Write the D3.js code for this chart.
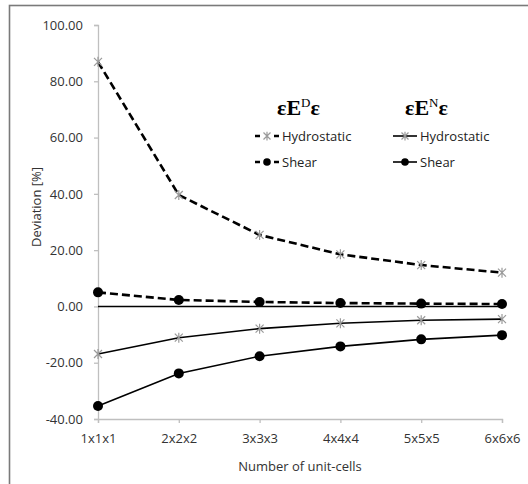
<!DOCTYPE html>
<html><head><meta charset="utf-8">
<script src="https://cdn.jsdelivr.net/npm/d3@7"></script>
<style>html,body{margin:0;padding:0;background:#fff;}svg{display:block;}</style>
</head><body>
<svg id="chart" width="528" height="484"></svg>
<script>
const categories = ["1x1x1","2x2x2","3x3x3","4x4x4","5x5x5","6x6x6"];
const dHydro = [86.9, 39.6, 25.4, 18.5, 14.7, 12.0];
const dShear = [5.0, 2.3, 1.6, 1.2, 1.0, 0.85];
const nHydro = [-16.9, -11.1, -7.9, -6.0, -4.9, -4.5];
const nShear = [-35.4, -23.8, -17.7, -14.2, -11.7, -10.2];
const zeroLine = [0, 0, 0, 0, 0, 0];
const yTicks = [-40, -20, 0, 20, 40, 60, 80, 100];
const legendLabels = ["Hydrostatic", "Shear"];

const svg = d3.select("#chart");
const font = "'Open Sans', sans-serif";
const axisGrey = "#bfbfbf";

svg.append("rect").attr("x", 9.5).attr("y", 5.5).attr("width", 600).attr("height", 600)
  .attr("fill", "none").attr("stroke", "#7a7a7a").attr("stroke-width", 1.6);

const x = d3.scalePoint().domain(categories).range([98, 502]).padding(0);
const y = d3.scaleLinear().domain([-40, 100]).range([419, 25]);

const yAxis = svg.append("g").attr("transform", "translate(98,0)")
  .call(d3.axisLeft(y).tickValues(yTicks).tickFormat(d => d.toFixed(2)).tickSize(4).tickPadding(11));
const xAxis = svg.append("g").attr("transform", "translate(0,419)")
  .call(d3.axisBottom(x).tickSize(4).tickPadding(11));
[yAxis, xAxis].forEach(g => {
  g.select(".domain").attr("stroke", axisGrey).attr("stroke-width", 1.3);
  g.selectAll(".tick line").attr("stroke", axisGrey).attr("stroke-width", 1.3);
  g.selectAll(".tick text").attr("fill", "#333").style("font-family", font).style("font-size", "13px");
});

svg.append("text").attr("transform", "translate(41,207) rotate(-90)").attr("text-anchor", "middle")
  .style("font-family", font).style("font-size", "13px").attr("fill", "#333").text("Deviation [%]");
svg.append("text").attr("x", 300).attr("y", 471).attr("text-anchor", "middle")
  .style("font-family", font).style("font-size", "13px").attr("fill", "#333").text("Number of unit-cells");

const line = d3.line().x((d, i) => x(categories[i])).y(d => y(d));

svg.append("path").datum(zeroLine).attr("d", line).attr("fill", "none").attr("stroke", "#000").attr("stroke-width", 1.6);

function star(g, cx, cy, r) {
  const p = `M${cx - r},${cy - r}L${cx + r},${cy + r}M${cx - r},${cy + r}L${cx + r},${cy - r}M${cx},${cy - r * 1.25}L${cx},${cy + r * 1.25}`;
  g.append("path").attr("d", p).attr("stroke", "#9a9a9a").attr("stroke-width", 1.2).attr("fill", "none");
}

const series = [
  { data: dHydro, dash: "8,4", width: 2.6, marker: "star" },
  { data: dShear, dash: "8,4", width: 2.6, marker: "circle" },
  { data: nHydro, dash: null, width: 1.6, marker: "star" },
  { data: nShear, dash: null, width: 1.6, marker: "circle" }
];
series.forEach(s => {
  svg.append("path").datum(s.data).attr("d", line).attr("fill", "none")
    .attr("stroke", "#000").attr("stroke-width", s.width).attr("stroke-dasharray", s.dash);
  const g = svg.append("g");
  s.data.forEach((v, i) => {
    const cx = x(categories[i]), cy = y(v);
    if (s.marker === "star") star(g, cx, cy, 4);
    else g.append("circle").attr("cx", cx).attr("cy", cy).attr("r", 5).attr("fill", "#000");
  });
});

// Legend titles
function title(xp, sup) {
  const t = svg.append("text").attr("x", xp).attr("y", 115)
    .style("font-family", "'Liberation Serif', serif").style("font-size", "22px").attr("fill", "#000");
  t.append("tspan").style("font-weight", "bold").text("\u03B5E");
  t.append("tspan").style("font-size", "13px").attr("dy", -8).text(sup);
  t.append("tspan").style("font-weight", "bold").attr("dy", 8).text("\u03B5");
}
title(277, "D");
title(405, "N");

// Legend entries
const legendGroups = [
  { x0: 255, items: [series[0], series[1]] },
  { x0: 393, items: [series[2], series[3]] }
];
legendGroups.forEach(lg => {
  lg.items.forEach((s, j) => {
    const ly = 136 + j * 26;
    if (s.dash) {
      svg.append("line").attr("x1", lg.x0).attr("x2", lg.x0 + 24).attr("y1", ly).attr("y2", ly)
        .attr("stroke", "#000").attr("stroke-width", 2.6).attr("stroke-dasharray", "5,14,5");
    } else {
      svg.append("line").attr("x1", lg.x0).attr("x2", lg.x0 + 24).attr("y1", ly).attr("y2", ly)
        .attr("stroke", "#000").attr("stroke-width", 1.6);
    }
    if (s.marker === "star") star(svg, lg.x0 + 12, ly, 3.5);
    else svg.append("circle").attr("cx", lg.x0 + 12).attr("cy", ly).attr("r", 3.8).attr("fill", "#000");
    svg.append("text").attr("x", lg.x0 + 27).attr("y", ly).attr("dy", "0.35em")
      .style("font-family", font).style("font-size", "13px").attr("fill", "#222").text(legendLabels[j]);
  });
});
</script>
</body></html>
